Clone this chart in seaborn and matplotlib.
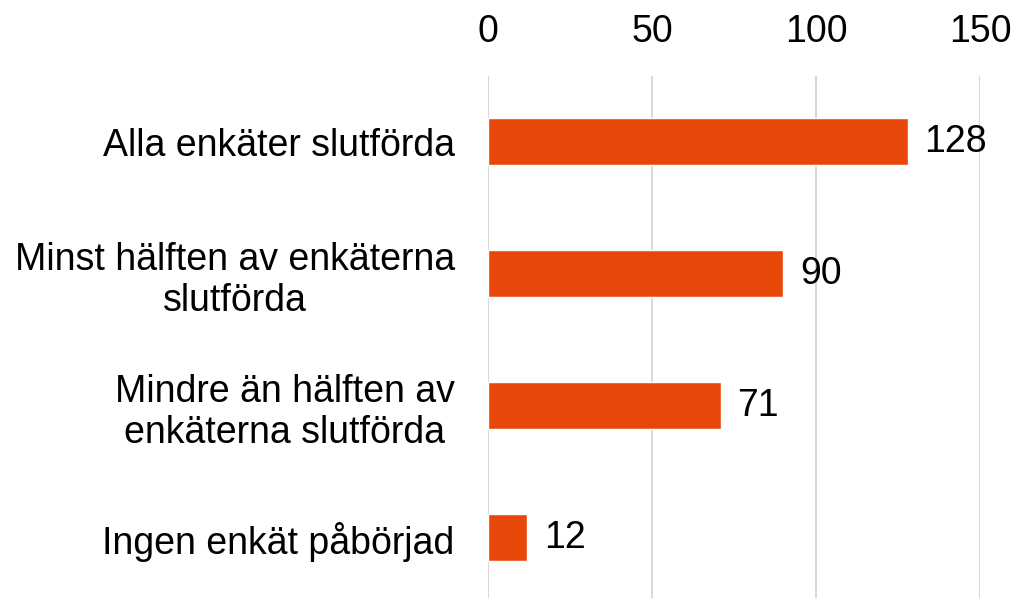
import matplotlib
matplotlib.use("Agg")
import matplotlib.pyplot as plt
import seaborn as sns
import pandas as pd

categories = ["Alla enkäter slutförda",
              "Minst hälften av enkäterna\nslutförda",
              "Mindre än hälften av\nenkäterna slutförda",
              "Ingen enkät påbörjad"]
values = [128, 90, 71, 12]
xticks = [0, 50, 100, 150]

sns.set_theme(style="white")
plt.rcParams['font.family'] = ['Liberation Sans', 'DejaVu Sans']

df = pd.DataFrame({"cat": categories, "val": values})

fig = plt.figure(figsize=(10.17, 5.98), dpi=100)
ax = fig.add_axes([488/1017, -5.5/598, 492/1017, 528/598])
sns.barplot(data=df, x="val", y="cat", orient="h", color="#E8470A",
            saturation=1, width=0.356, ax=ax)
ax.set_xlim(0, 150)
ax.set_ylim(3.5, -0.5)
ax.set_xticks(xticks)
ax.xaxis.grid(True, color="#D9D9D9", linewidth=1.5)
ax.set_axisbelow(True)
ax.tick_params(axis="x", top=True, bottom=False, labeltop=True, labelbottom=False,
               length=0, pad=18, labelsize=27, colors="black")
ax.tick_params(axis="y", length=0, pad=24, labelsize=27, colors="black")
for lab in ax.get_yticklabels():
    lab.set_multialignment("center")
    lab.set_linespacing(1.2)
ax.set_xlabel("")
ax.set_ylabel("")
for s in ax.spines.values():
    s.set_visible(False)
ax.bar_label(ax.containers[0], padding=12, fontsize=27, color="black")
fig.savefig("out.png", dpi=100)
